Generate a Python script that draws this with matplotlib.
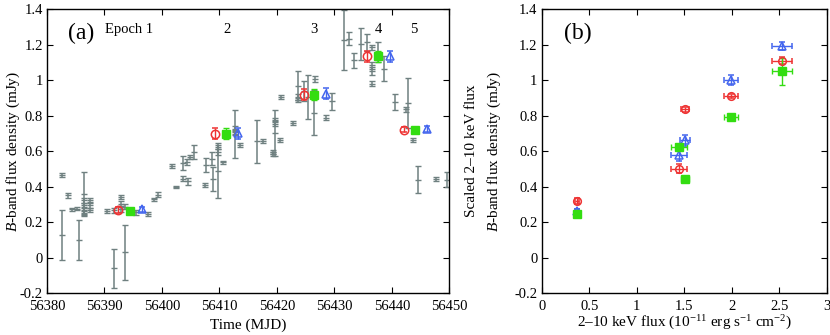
import matplotlib
matplotlib.use("Agg")
import matplotlib.pyplot as plt
from matplotlib.ticker import FuncFormatter, MultipleLocator

plt.rcParams['font.family'] = ['Liberation Serif', 'DejaVu Serif']
plt.rcParams['mathtext.fontset'] = 'custom'
plt.rcParams['mathtext.rm'] = 'Liberation Serif'
plt.rcParams['mathtext.it'] = 'Liberation Serif:italic'

# ---------------- Panel (a) data ----------------
grey_mjd = [56382.6, 56382.6, 56383.6, 56384.4, 56385.3, 56385.6, 56386.5, 56386.5, 56386.5,
            56386.5, 56386.5, 56387.5, 56387.5, 56387.5, 56390.4, 56391.6, 56391.6, 56392.8,
            56392.8, 56392.8, 56393.5, 56393.5, 56395.5, 56397.5, 56398.6, 56399.4, 56401.7,
            56402.5, 56403.6, 56403.6, 56404.4, 56404.5, 56404.8, 56405.5, 56407.5, 56407.7,
            56408.7, 56408.8, 56409.7, 56409.7, 56409.7, 56410.6, 56412.75, 56412.75, 56412.75,
            56413.5, 56416.5, 56417.6, 56419.4, 56419.4, 56419.7, 56419.7, 56419.7, 56420.6,
            56420.8, 56422.8, 56423.6, 56423.6, 56423.6, 56424.7, 56425.5, 56426.5, 56426.7,
            56428.6, 56429.6, 56431.6, 56432.6, 56433.5, 56434.7, 56435.7, 56436.6, 56436.6,
            56436.6, 56436.6, 56437.6, 56438.6, 56440.6, 56442.5, 56442.8, 56443.6, 56444.6,
            56447.6, 56449.6]
grey_flux = [0.465, 0.13, 0.352, 0.273, 0.277, 0.10, 0.36, 0.324, 0.296,
             0.268, 0.249, 0.324, 0.296, 0.268, 0.262, 0.266, -0.06, 0.343,
             0.305, 0.272, 0.03, 0.287, 0.255, 0.245, 0.328, 0.356, 0.516,
             0.398, 0.532, 0.446, 0.539, 0.430, 0.567, 0.594, 0.408, 0.521,
             0.558, 0.444, 0.49, 0.624, 0.596, 0.537, 0.695, 0.727, 0.705,
             0.635, 0.656, 0.656, 0.596, 0.585, 0.703, 0.777, 0.755, 0.661,
             0.905, 0.758, 0.968, 0.905, 0.886, 0.94, 0.905, 0.816, 1.006,
             0.789, 0.88, 1.225, 1.232, 1.111, 1.204, 1.213, 1.185, 1.083,
             1.051, 0.980, 1.157, 1.064, 0.876, 0.835, 0.87, 0.661, 0.44,
             0.444, 0.44]
grey_err = [0.010, 0.14, 0.015, 0.008, 0.008, 0.11, 0.12, 0.015, 0.015,
            0.015, 0.012, 0.012, 0.015, 0.012, 0.012, 0.012, 0.11, 0.012,
            0.012, 0.012, 0.155, 0.015, 0.012, 0.012, 0.010, 0.012, 0.010,
            0.008, 0.04, 0.015, 0.015, 0.02, 0.012, 0.04, 0.012, 0.04,
            0.037, 0.066, 0.155, 0.012, 0.015, 0.010, 0.134, 0.012, 0.012,
            0.012, 0.12, 0.010, 0.010, 0.010, 0.131, 0.012, 0.012, 0.012,
            0.010, 0.010, 0.082, 0.015, 0.012, 0.056, 0.122, 0.126, 0.015,
            0.015, 0.047, 0.167, 0.037, 0.044, 0.091, 0.049, 0.015, 0.02,
            0.02, 0.012, 0.056, 0.07, 0.047, 0.012, 0.14, 0.012, 0.077,
            0.010, 0.042]

red_mjd = [56392.4, 56409.3, 56424.65, 56435.7, 56442.1]
red_flux = [0.268, 0.699, 0.918, 1.133, 0.721]
green_mjd = [56394.5, 56411.2, 56426.5, 56437.6, 56444.1]
green_flux = [0.264, 0.699, 0.918, 1.133, 0.721]
blue_mjd = [56396.5, 56413.2, 56428.6, 56439.6, 56446.1]
blue_flux = [0.272, 0.700, 0.924, 1.133, 0.724]
epoch_err = [0.015, 0.03, 0.03, 0.03, 0.015]

epoch_labels = ["Epoch 1", "2", "3", "4", "5"]
epoch_label_mjd = [56394.3, 56411.4, 56426.5, 56437.6, 56443.8]

# ---------------- Panel (b) data ----------------
red_x = [0.37, 1.445, 1.51, 1.99, 2.53]
red_xerr = [0.02, 0.08, 0.04, 0.074, 0.105]
red_y = [0.32, 0.50, 0.835, 0.91, 1.11]
red_yerr = [0.015, 0.025, 0.012, 0.012, 0.02]

blue_x = [0.37, 1.445, 1.51, 1.99, 2.53]
blue_xerr = [0.02, 0.088, 0.05, 0.074, 0.105]
blue_y = [0.262, 0.58, 0.66, 1.0, 1.19]
blue_yerr = [0.01, 0.037, 0.03, 0.028, 0.023]

green_x = [0.37, 1.445, 1.51, 1.99, 2.53]
green_xerr = [0.02, 0.08, 0.04, 0.074, 0.105]
green_y = [0.245, 0.625, 0.445, 0.79, 1.05]
green_yerr = [0.01, 0.015, 0.01, 0.012, 0.075]

RED = '#ee3333'
GREEN = '#33dd11'
BLUE = '#4466ee'
GREY = '#6f8080'

fig = plt.figure(figsize=(8.3, 3.35), dpi=100)
ax_a = fig.add_axes([47/830, 1-293.3/335, 402.3/830, 284.3/335])
ax_b = fig.add_axes([541.7/830, 1-293.3/335, 285/830, 284.3/335])

fs = 10.5
fmt = FuncFormatter(lambda v, p: '%g' % round(v, 6))

# Panel (a)
ax_a.errorbar(grey_mjd, grey_flux, yerr=grey_err, fmt='_', color=GREY, ecolor=GREY,
              markersize=4, elinewidth=1.1, capsize=2, capthick=1.0, zorder=2)
ax_a.errorbar(red_mjd, red_flux, yerr=epoch_err, fmt='o', mfc='none', mec=RED, ecolor=RED,
              markersize=6, mew=1.1, elinewidth=1.0, capsize=2, zorder=3)
ax_a.errorbar(green_mjd, green_flux, yerr=epoch_err, fmt='s', mfc=GREEN, mec=GREEN, ecolor=GREEN,
              markersize=6, elinewidth=1.0, capsize=2, zorder=3)
ax_a.errorbar(blue_mjd, blue_flux, yerr=epoch_err, fmt='^', mfc='none', mec=BLUE, ecolor=BLUE,
              markersize=6, mew=1.1, elinewidth=1.0, capsize=2, zorder=3)
for lab, xm in zip(epoch_labels, epoch_label_mjd):
    ax_a.text(xm, 1.285, lab, ha='center', va='center', fontsize=fs)
ax_a.text(0.085, 0.915, '(a)', transform=ax_a.transAxes, ha='center', va='center', fontsize=17)

ax_a.set_xlim(56380, 56450)
ax_a.set_ylim(-0.2, 1.4)
ax_a.xaxis.set_major_locator(MultipleLocator(10))
ax_a.yaxis.set_major_locator(MultipleLocator(0.2))
ax_a.xaxis.set_major_formatter(FuncFormatter(lambda v, p: '%d' % round(v)))
ax_a.yaxis.set_major_formatter(fmt)
ax_a.set_xlabel('Time (MJD)', fontsize=fs + 0.5, va='center')
ax_a.xaxis.set_label_coords(0.5, -0.112)
ax_a.set_ylabel('$B$-band flux density (mJy)', fontsize=fs + 0.5)
ax_a.yaxis.set_label_coords(-0.062, 0.5)
ax_a.text(1.056, 0.5, 'Scaled 2\u201310 keV flux', transform=ax_a.transAxes, rotation=90,
          ha='center', va='center', fontsize=fs + 0.5)

# Panel (b)
ax_b.errorbar(red_x, red_y, xerr=red_xerr, yerr=red_yerr, fmt='o', mfc='none', mec=RED, ecolor=RED,
              markersize=5.5, mew=1.1, elinewidth=1.0, capsize=2, zorder=3)
ax_b.errorbar(blue_x, blue_y, xerr=blue_xerr, yerr=blue_yerr, fmt='^', mfc='none', mec=BLUE, ecolor=BLUE,
              markersize=5.5, mew=1.1, elinewidth=1.0, capsize=2, zorder=3)
ax_b.errorbar(green_x, green_y, xerr=green_xerr, yerr=green_yerr, fmt='s', mfc=GREEN, mec=GREEN,
              ecolor=GREEN, markersize=5.5, elinewidth=1.0, capsize=2, zorder=3)
ax_b.text(0.125, 0.915, '(b)', transform=ax_b.transAxes, ha='center', va='center', fontsize=17)
ax_b.set_xlim(0, 3)
ax_b.set_ylim(-0.2, 1.4)
ax_b.xaxis.set_major_locator(MultipleLocator(0.5))
ax_b.yaxis.set_major_locator(MultipleLocator(0.2))
ax_b.xaxis.set_major_formatter(fmt)
ax_b.yaxis.set_major_formatter(fmt)
ax_b.set_xlabel('2\u201310 keV flux (10$^{-11}$ erg s$^{-1}$ cm$^{-2}$)', fontsize=fs + 0.5, va='center')
ax_b.xaxis.set_label_coords(0.5, -0.105)
ax_b.set_ylabel('$B$-band flux density (mJy)', fontsize=fs + 0.5)
ax_b.yaxis.set_label_coords(-0.136, 0.5)

for ax in (ax_a, ax_b):
    ax.tick_params(direction='in', top=True, right=True, length=4, width=0.8,
                   labelsize=fs, pad=5)
    for s in ax.spines.values():
        s.set_linewidth(1.0)
ax_a.tick_params(axis='y', pad=3)
ax_b.tick_params(axis='y', pad=3)

fig.savefig('out.png', dpi=100)
